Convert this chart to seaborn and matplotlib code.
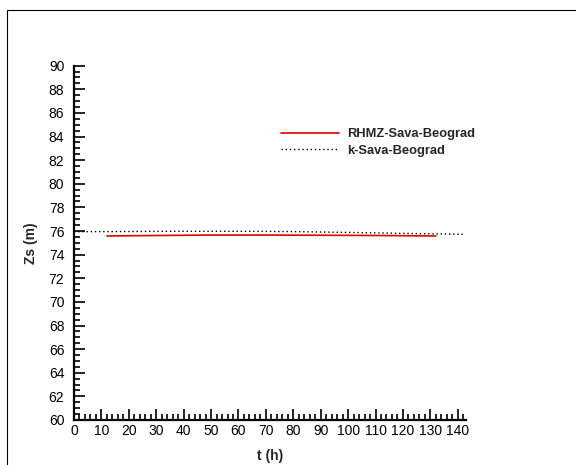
import numpy as np
import pandas as pd
import matplotlib.pyplot as plt
import seaborn as sns
from matplotlib.patches import Rectangle
from matplotlib.ticker import MultipleLocator

t_rhmz = [12, 30, 50, 70, 90, 110, 132]
z_rhmz = [75.58, 75.62, 75.66, 75.66, 75.64, 75.62, 75.58]
t_model = [0, 20, 40, 60, 80, 100, 120, 142.5]
z_model = [75.94, 75.96, 75.98, 75.98, 75.95, 75.88, 75.80, 75.72]
labels = ["RHMZ-Sava-Beograd", "k-Sava-Beograd"]

sns.set_style("ticks")
plt.rcParams['font.family'] = ['Liberation Sans', 'DejaVu Sans']

fig = plt.figure(figsize=(5.76, 4.65), dpi=100)
ax = fig.add_axes([0.1285, 0.0968, 0.809 - 0.1285, 0.762])

# outer frame like the original export
fig.patches.append(Rectangle((7 / 576, -0.1), 1.2, 1 - 10 / 465 + 0.1,
                             transform=fig.transFigure, fill=False,
                             edgecolor='black', linewidth=0.8))

df_r = pd.DataFrame({'t': t_rhmz, 'z': z_rhmz})
df_m = pd.DataFrame({'t': t_model, 'z': z_model})
sns.lineplot(data=df_r, x='t', y='z', ax=ax, color='#e00000', linewidth=1.2,
             label=labels[0])
sns.lineplot(data=df_m, x='t', y='z', ax=ax, color='black', linewidth=1.0,
             linestyle=(0, (1, 2)), label=labels[1])

ax.set_xlim(0, 143)
ax.set_ylim(60, 90)
ax.xaxis.set_major_locator(MultipleLocator(10))
ax.xaxis.set_minor_locator(MultipleLocator(2))
ax.yaxis.set_major_locator(MultipleLocator(2))
ax.yaxis.set_minor_locator(MultipleLocator(0.5))
ax.tick_params(which='both', direction='in', width=1.2, color='black',
               labelsize=10, labelcolor='black')
ax.tick_params(which='major', length=8)
ax.tick_params(which='minor', length=4)
ax.tick_params(axis='x', which='major', pad=3)
ax.tick_params(axis='y', which='major', pad=7)

for s in ['top', 'right']:
    ax.spines[s].set_visible(False)
for s in ['left', 'bottom']:
    ax.spines[s].set_linewidth(1.6)
    ax.spines[s].set_color('black')

ax.set_xlabel('t (h)', fontsize=10, fontweight='bold', labelpad=8)
ax.set_ylabel('Zs (m)', fontsize=10, fontweight='bold', labelpad=8)

leg = ax.legend(loc='upper left', bbox_to_anchor=(281 / 576, 1 - 128 / 465),
                bbox_transform=fig.transFigure, frameon=False, borderpad=0,
                borderaxespad=0, handlelength=4.5, handletextpad=0.65,
                labelspacing=0.35, prop={'weight': 'bold', 'size': 9.3})

fig.savefig('out.png', dpi=100)
